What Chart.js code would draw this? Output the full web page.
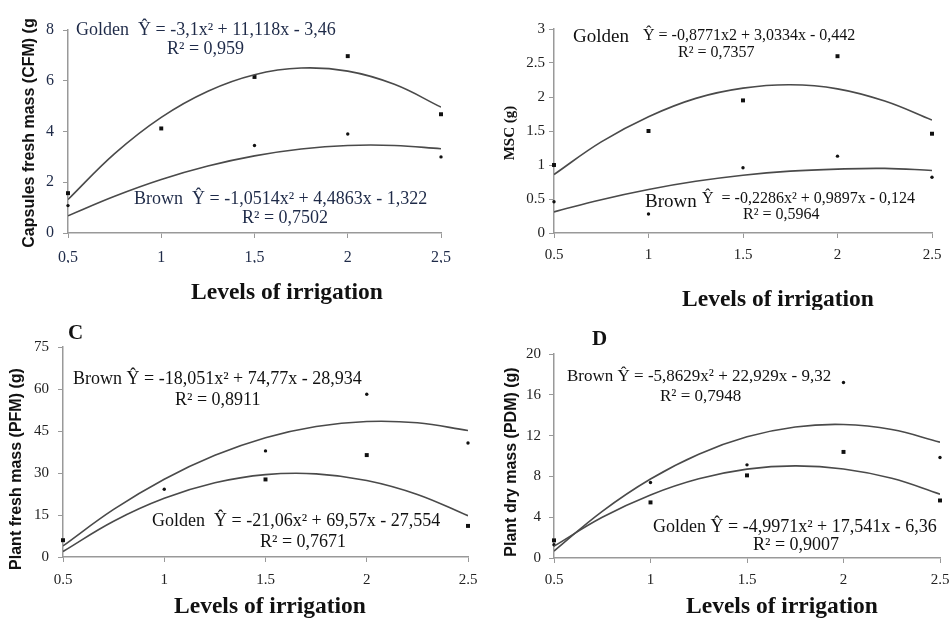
<!DOCTYPE html>
<html>
<head>
<meta charset="utf-8">
<script src="https://cdn.jsdelivr.net/npm/chart.js@4.4.0/dist/chart.umd.min.js"></script>
<style>
  body { margin: 0; background: #fff; }
  #wrap { position: relative; width: 952px; height: 619px; overflow: hidden; background: #fff; }
  canvas { position: absolute; }
</style>
</head>
<body>
<div id="wrap">
  <canvas id="chartA" width="476" height="310" style="left:0px;top:0px"></canvas>
  <canvas id="chartB" width="476" height="310" style="left:476px;top:0px"></canvas>
  <canvas id="chartC" width="480" height="309" style="left:0px;top:310px"></canvas>
  <canvas id="chartD" width="476" height="309" style="left:476px;top:310px"></canvas>
</div>
<script>
// DATOS: niveles de riego (eje x) y puntos donde se leyó la curva ajustada
const irrigationLevels = [0.5, 1, 1.5, 2, 2.5];
const curveLevels = [0.5, 0.75, 1, 1.25, 1.5, 1.75, 2, 2.25, 2.5];

// etiquetas de los ejes
const commaXTicks = ['0,5', '1', '1,5', '2', '2,5'];
const dotXTicks = ['0.5', '1', '1.5', '2', '2.5'];
const cfmYTicks = ['0', '2', '4', '6', '8'];
const mscYTicks = ['0', '0.5', '1', '1.5', '2', '2.5', '3'];
const pfmYTicks = ['0', '15', '30', '45', '60', '75'];
const pdmYTicks = ['0', '4', '8', '12', '16', '20'];

// A - capsules fresh mass
const cfmGolden = [1.57, 4.12, 6.15, 6.97, 4.68];
const cfmBrown = [1.08, null, 3.45, 3.9, 3.0];
const cfmGoldenFit = [1.32, 3.13, 4.56, 5.59, 6.24, 6.50, 6.38, 5.86, 4.96];
const cfmBrownFit = [0.68, 1.45, 2.11, 2.64, 3.04, 3.31, 3.45, 3.45, 3.32];

// B - MSC
const mscGolden = [1.0, 1.5, 1.95, 2.6, 1.46];
const mscBrown = [0.46, 0.28, 0.96, 1.13, 0.82];
const mscGoldenFit = [0.86, 1.34, 1.71, 1.98, 2.13, 2.18, 2.12, 1.94, 1.66];
const mscBrownFit = [0.31, 0.49, 0.64, 0.76, 0.85, 0.91, 0.94, 0.95, 0.92];

// C - plant fresh mass
const pfmGolden = [6.0, null, 27.7, 36.4, 11.1];
const pfmBrown = [null, 24.2, 37.9, 58.1, 40.7];
const pfmGoldenFit = [1.97, 12.78, 20.96, 26.50, 29.42, 29.70, 27.35, 22.36, 14.75];
const pfmBrownFit = [3.94, 16.99, 27.79, 36.32, 42.61, 46.63, 48.40, 47.92, 45.17];

// D - plant dry mass
const pdmGolden = [1.73, 5.45, 8.1, 10.4, 5.64];
const pdmBrown = [1.3, 7.4, 9.13, 17.2, 9.85];
const pdmGoldenFit = [1.16, 3.99, 6.18, 7.76, 8.71, 9.03, 8.73, 7.81, 6.26];
const pdmBrownFit = [0.68, 4.58, 7.75, 10.18, 11.88, 12.85, 13.09, 12.59, 11.36];

const SERIF = '"Liberation Serif", "Times New Roman", serif';
const SANS = '"Liberation Sans", Arial, sans-serif';
const toNum = (label) => parseFloat(label.replace(',', '.'));

// convierte listas de valores en puntos {x, y}, saltando los vacíos
const toPoints = (xs, ys) => xs.map((x, i) => ({ x: x, y: ys[i] })).filter(p => p.y !== null);

// crea un panel completo
const buildPanel = (canvasId, cfg) => {
    const canvas = document.getElementById(canvasId);
    const yW = 30, xH = 30;

    // plugin que escribe ecuaciones y títulos
    const textPlugin = {
        id: 'panelText_' + canvasId,
        afterDraw(chart) {
            const c = chart.ctx;
            cfg.texts.forEach(t => {
                c.save();
                c.font = t.font;
                c.fillStyle = t.color || '#111';
                c.textAlign = t.align || 'left';
                c.textBaseline = 'middle';
                c.translate(t.x - cfg.offX, t.y - cfg.offY);
                if (t.rotate) c.rotate(-Math.PI / 2);
                c.fillText(t.text, 0, 0);
                c.restore();
            });
        }
    };

    const fitLine = (vals) => ({
        data: toPoints(curveLevels, vals),
        borderColor: '#4a4a4a',
        borderWidth: 1.6,
        pointRadius: 0,
        tension: 0.4,
        fill: false
    });

    const marks = (vals, style, radius) => ({
        data: toPoints(irrigationLevels, vals),
        showLine: false,
        clip: false,
        pointStyle: style,
        pointRadius: radius,
        backgroundColor: '#111',
        borderColor: '#111',
        borderWidth: 0
    });

    return new Chart(canvas, {
        type: 'line',
        data: {
            datasets: [
                fitLine(cfg.goldenFit),
                fitLine(cfg.brownFit),
                marks(cfg.golden, 'rect', 2.8),
                marks(cfg.brown, 'circle', 1.7)
            ]
        },
        options: {
            responsive: false,
            animation: false,
            devicePixelRatio: 1,
            layout: {
                padding: {
                    left: cfg.area.left - yW,
                    top: cfg.area.top,
                    right: canvas.width - cfg.area.right,
                    bottom: canvas.height - cfg.area.bottom - xH
                }
            },
            plugins: { legend: { display: false }, tooltip: { enabled: false } },
            scales: {
                x: {
                    type: 'linear',
                    min: 0.5,
                    max: 2.5,
                    afterBuildTicks: (s) => { s.ticks = irrigationLevels.map(v => ({ value: v })); },
                    afterFit: (s) => {
                        s.height = xH;
                        s.paddingLeft = s.paddingRight = s.paddingTop = s.paddingBottom = 0;
                    },
                    ticks: {
                        callback: (v, i) => cfg.xTicks[i],
                        font: { family: SERIF, size: cfg.tickSize },
                        color: cfg.tickColor,
                        padding: cfg.xPad,
                        maxRotation: 0,
                        autoSkip: false
                    },
                    grid: { drawOnChartArea: false, tickLength: 5, color: '#999' },
                    border: { color: '#999', width: 1.5 }
                },
                y: {
                    min: 0,
                    max: toNum(cfg.yTicks[cfg.yTicks.length - 1]),
                    afterBuildTicks: (s) => { s.ticks = cfg.yTicks.map(l => ({ value: toNum(l) })); },
                    afterFit: (s) => {
                        s.width = yW;
                        s.paddingLeft = s.paddingRight = s.paddingTop = s.paddingBottom = 0;
                    },
                    ticks: {
                        callback: (v, i) => cfg.yTicks[i],
                        font: { family: SERIF, size: cfg.tickSize },
                        color: cfg.tickColor,
                        padding: cfg.yPad,
                        autoSkip: false
                    },
                    grid: { drawOnChartArea: false, tickLength: 5, color: '#999' },
                    border: { color: '#999', width: 1.5 }
                }
            }
        },
        plugins: [textPlugin]
    });
};

const eq = (size) => size + 'px ' + SERIF;
const xTitle = 'bold 23.5px ' + SERIF;
const yTitle = 'bold 16px ' + SANS;
const navy = '#1e2a48';

// Panel A
buildPanel('chartA', {
    offX: 0, offY: 0,
    area: { left: 68, right: 441, top: 30, bottom: 233 },
    xTicks: commaXTicks, yTicks: cfmYTicks,
    golden: cfmGolden, brown: cfmBrown, goldenFit: cfmGoldenFit, brownFit: cfmBrownFit,
    tickSize: 16, tickColor: navy, xPad: 10, yPad: 9,
    texts: [
        { text: 'Capsules fresh mass (CFM) (g', x: 30, y: 133, font: yTitle, align: 'center', rotate: true },
        { text: 'Levels of irrigation', x: 287, y: 293, font: xTitle, align: 'center' },
        { text: 'Golden  Ŷ = -3,1x² + 11,118x - 3,46', x: 76, y: 30, font: eq(18), color: navy },
        { text: 'R² = 0,959', x: 167, y: 49, font: eq(18), color: navy },
        { text: 'Brown  Ŷ = -1,0514x² + 4,4863x - 1,322', x: 134, y: 199, font: eq(18), color: navy },
        { text: 'R² = 0,7502', x: 242, y: 218, font: eq(18), color: navy }
    ]
});

// Panel B
buildPanel('chartB', {
    offX: 476, offY: 0,
    area: { left: 78, right: 456, top: 29, bottom: 233 },
    xTicks: dotXTicks, yTicks: mscYTicks,
    golden: mscGolden, brown: mscBrown, goldenFit: mscGoldenFit, brownFit: mscBrownFit,
    tickSize: 15, tickColor: '#222', xPad: 8, yPad: 4,
    texts: [
        { text: 'MSC (g)', x: 510, y: 133, font: 'bold 15px ' + SERIF, align: 'center', rotate: true },
        { text: 'Levels of irrigation', x: 778, y: 300, font: xTitle, align: 'center' },
        { text: 'Golden', x: 573, y: 37, font: eq(19) },
        { text: 'Ŷ = -0,8771x2 + 3,0334x - 0,442', x: 643, y: 36, font: eq(16) },
        { text: 'R² = 0,7357', x: 678, y: 53, font: eq(16) },
        { text: 'Brown', x: 645, y: 202, font: eq(19) },
        { text: 'Ŷ  = -0,2286x² + 0,9897x - 0,124', x: 702, y: 199, font: eq(16) },
        { text: 'R² = 0,5964', x: 743, y: 215, font: eq(16) }
    ]
});

// Panel C
buildPanel('chartC', {
    offX: 0, offY: 310,
    area: { left: 63, right: 468, top: 37, bottom: 247 },
    xTicks: dotXTicks, yTicks: pfmYTicks,
    golden: pfmGolden, brown: pfmBrown, goldenFit: pfmGoldenFit, brownFit: pfmBrownFit,
    tickSize: 15, tickColor: '#222', xPad: 9, yPad: 9,
    texts: [
        { text: 'C', x: 68, y: 334, font: 'bold 21px ' + SERIF },
        { text: 'Plant fresh mass (PFM) (g)', x: 17, y: 469, font: yTitle, align: 'center', rotate: true },
        { text: 'Levels of irrigation', x: 270, y: 607, font: xTitle, align: 'center' },
        { text: 'Brown Ŷ = -18,051x² + 74,77x - 28,934', x: 73, y: 379, font: eq(18) },
        { text: 'R² = 0,8911', x: 175, y: 400, font: eq(18) },
        { text: 'Golden  Ŷ = -21,06x² + 69,57x - 27,554', x: 152, y: 521, font: eq(18) },
        { text: 'R² = 0,7671', x: 260, y: 542, font: eq(18) }
    ]
});

// Panel D
buildPanel('chartD', {
    offX: 476, offY: 310,
    area: { left: 78, right: 464, top: 44, bottom: 248 },
    xTicks: dotXTicks, yTicks: pdmYTicks,
    golden: pdmGolden, brown: pdmBrown, goldenFit: pdmGoldenFit, brownFit: pdmBrownFit,
    tickSize: 15, tickColor: '#222', xPad: 8, yPad: 8,
    texts: [
        { text: 'D', x: 592, y: 340, font: 'bold 21px ' + SERIF },
        { text: 'Plant dry mass (PDM) (g)', x: 512, y: 462, font: yTitle, align: 'center', rotate: true },
        { text: 'Levels of irrigation', x: 782, y: 607, font: xTitle, align: 'center' },
        { text: 'Brown Ŷ = -5,8629x² + 22,929x - 9,32', x: 567, y: 377, font: eq(17) },
        { text: 'R² = 0,7948', x: 660, y: 397, font: eq(17) },
        { text: 'Golden Ŷ = -4,9971x² + 17,541x - 6,36', x: 653, y: 527, font: eq(18) },
        { text: 'R² = 0,9007', x: 753, y: 545, font: eq(18) }
    ]
});
</script>
</body>
</html>
